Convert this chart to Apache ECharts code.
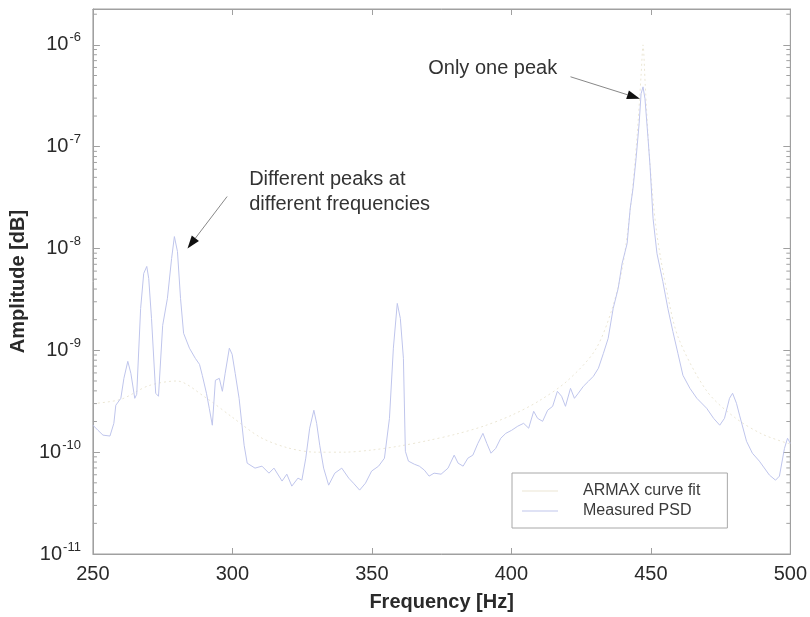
<!DOCTYPE html>
<html>
<head>
<meta charset="utf-8">
<script src="https://cdn.jsdelivr.net/npm/echarts@6/dist/echarts.min.js"></script>
<style>
html,body{margin:0;padding:0;background:#fff;}
#chart{width:810px;height:617px;}
</style>
</head>
<body>
<div id="chart"></div>
<script>
// ---- data ----
const psdFreq = [250.0,251.8,253.6,256.1,257.5,258.2,260.0,261.1,262.5,263.6,265.0,265.7,267.1,268.2,269.3,270.0,271.0,272.5,273.5,275.0,276.7,278.2,279.2,280.3,281.4,282.5,284.6,286.7,288.2,289.2,290.7,291.7,292.8,293.9,295.3,296.4,297.4,298.9,299.9,301.0,302.4,304.2,305.3,308.1,310.6,313.1,314.9,317.8,319.5,321.3,323.5,324.9,326.3,327.7,329.2,330.2,331.3,332.7,334.5,336.7,339.2,341.7,343.4,345.6,347.7,349.9,352.4,354.5,356.3,357.7,359.1,360.2,361.3,362.0,363.1,365.2,367.0,368.8,370.5,372.3,374.8,377.3,379.5,380.9,382.7,384.4,386.2,388.0,389.8,391.2,392.7,394.4,396.2,398.0,400.1,402.3,404.4,406.2,408.0,409.4,411.2,413.0,414.8,416.5,418.0,419.4,421.2,422.6,424.0,425.8,427.6,429.4,431.2,433.0,434.7,436.5,438.3,439.7,441.5,442.6,443.6,444.7,445.8,446.5,447.2,447.9,449.0,449.7,450.8,452.2,454.3,456.1,457.9,459.7,461.5,464.0,466.5,470.0,472.5,474.7,476.4,478.2,479.3,480.7,481.8,484.3,486.4,488.9,492.5,494.7,496.1,497.9,499.0,500.0];
const psdValue = [1.84e-10,1.64e-10,1.47e-10,1.44e-10,1.92e-10,2.89e-10,3.38e-10,5.31e-10,7.8e-10,5.95e-10,3.38e-10,3.7e-10,2.58e-9,5.69e-9,6.67e-9,5.08e-9,2.06e-9,3.79e-10,3.54e-10,1.76e-9,3.24e-9,7.98e-9,1.31e-8,9.35e-9,3.24e-9,1.47e-9,1.05e-9,8.35e-10,7.29e-10,5.69e-10,3.79e-10,2.7e-10,1.84e-10,5.08e-10,5.31e-10,3.96e-10,5.95e-10,1.05e-9,9.14e-10,5.95e-10,3.38e-10,1.17e-10,7.8e-11,6.97e-11,7.29e-11,6.22e-11,6.97e-11,5.2e-11,6.08e-11,4.64e-11,5.56e-11,5.31e-11,8.73e-11,1.72e-10,2.58e-10,1.92e-10,1.17e-10,6.97e-11,4.74e-11,6.22e-11,6.97e-11,5.56e-11,4.96e-11,4.24e-11,4.96e-11,6.52e-11,7.29e-11,8.73e-11,2.15e-10,1.05e-9,2.89e-9,2.06e-9,8.35e-10,1.02e-10,8.17e-11,7.62e-11,7.29e-11,6.67e-11,5.82e-11,6.22e-11,6.08e-11,6.97e-11,9.35e-11,7.8e-11,7.29e-11,8.73e-11,9.35e-11,1.22e-10,1.53e-10,1.22e-10,9.77e-11,1.09e-10,1.37e-10,1.53e-10,1.64e-10,1.8e-10,1.92e-10,1.72e-10,2.52e-10,2.15e-10,2.01e-10,2.58e-10,2.82e-10,3.96e-10,3.54e-10,2.82e-10,4.24e-10,3.38e-10,3.79e-10,4.43e-10,4.96e-10,5.56e-10,6.67e-10,9.35e-10,1.31e-9,2.58e-9,4.06e-9,7.13e-9,1.12e-8,2.47e-8,3.87e-8,7.62e-8,1.68e-7,3.31e-7,3.87e-7,2.96e-7,1.2e-7,6.52e-8,1.97e-8,8.93e-9,4.74e-9,2.58e-9,1.53e-9,9.35e-10,5.69e-10,4.24e-10,3.38e-10,2.7e-10,2.15e-10,1.84e-10,2.15e-10,3.38e-10,3.79e-10,3.02e-10,2.31e-10,1.28e-10,9.77e-11,8.17e-11,5.96e-11,5.31e-11,5.82e-11,1.09e-10,1.37e-10,1.22e-10];

const armaxFreq = [250,260,270,280,290,300,310,320,330,340,350,360,370,380,390,400,410,420,430,436,440,443,445,446.5,447.2,448,449.5,452,456,460,470,480,490,500];
const armaxValue = [3.0e-10,3.3e-10,4.5e-10,5.0e-10,3.5e-10,2.2e-10,1.4e-10,1.1e-10,1.0e-10,1.0e-10,1.05e-10,1.15e-10,1.3e-10,1.5e-10,1.8e-10,2.3e-10,3.2e-10,5.0e-10,1.0e-9,2.5e-9,7e-9,3e-8,1.2e-7,5e-7,1.0e-6,4e-7,8e-8,1.5e-8,3.5e-9,1.3e-9,4e-10,2.2e-10,1.5e-10,1.2e-10];

const xTicks = [250, 300, 350, 400, 450, 500];
const yMin = 1e-11;
const yMax = 2.25e-6;
const seriesNames = ['ARMAX curve fit', 'Measured PSD'];

// annotations in data coordinates
const notes = [
  {lines: ['Only one peak'], at: [370.2, 5.56e-7], from: [421.2, 4.86e-7], to: [446.1, 2.96e-7]},
  {lines: ['Different peaks at', 'different frequencies'], at: [306.0, 4.54e-8], from: [298.1, 3.24e-8], to: [283.9, 1.0e-8]}
];

// ---- chart ----
const chart = echarts.init(document.getElementById('chart'), null, {renderer: 'canvas'});
const FONT = 'Liberation Sans, Arial, sans-serif';
const zip = (a, b) => a.map((v, i) => [v, b[i]]);

function yLabel(v) {
  const l = Math.log10(v);
  const e = Math.round(l);
  if (Math.abs(l - e) > 0.01) return '';
  return '{a|10}{b|' + e + '}';
}

const axisLineStyle = {color: '#a0a0a0', width: 1};

chart.setOption({
  animation: false,
  backgroundColor: '#ffffff',
  grid: {left: 90, right: 18, top: 9, bottom: 61, show: true, borderColor: '#a0a0a0', borderWidth: 1, containLabel: false},
  xAxis: [{
    type: 'value', min: xTicks[0], max: xTicks[xTicks.length - 1], interval: 50,
    position: 'bottom',
    name: 'Frequency [Hz]', nameLocation: 'middle', nameGap: 38,
    nameTextStyle: {fontFamily: FONT, fontSize: 20, fontWeight: 'bold', color: '#2a2a2a'},
    axisLine: {show: true, lineStyle: axisLineStyle},
    axisTick: {show: true, inside: true, length: 6, lineStyle: axisLineStyle},
    axisLabel: {show: true, fontFamily: FONT, fontSize: 20, color: '#2a2a2a', margin: 10},
    splitLine: {show: false}
  }, {
    type: 'value', min: xTicks[0], max: xTicks[xTicks.length - 1], interval: 50,
    position: 'top',
    axisLine: {show: true, lineStyle: axisLineStyle},
    axisTick: {show: true, inside: true, length: 6, lineStyle: axisLineStyle},
    axisLabel: {show: false}, splitLine: {show: false}
  }],
  yAxis: [{
    type: 'log', logBase: 10, min: yMin, max: yMax,
    position: 'left',
    name: 'Amplitude [dB]', nameLocation: 'middle', nameGap: 58, nameRotate: 90,
    nameTextStyle: {fontFamily: FONT, fontSize: 20, fontWeight: 'bold', color: '#2a2a2a'},
    axisLine: {show: true, lineStyle: axisLineStyle},
    axisTick: {show: true, inside: true, length: 7, lineStyle: axisLineStyle},
    axisLabel: {
      show: true, margin: 12, formatter: yLabel,
      rich: {
        a: {fontFamily: FONT, fontSize: 20, color: '#2a2a2a'},
        b: {fontFamily: FONT, fontSize: 13, color: '#2a2a2a', padding: [0, 0, 14, 1]}
      }
    },
    splitLine: {show: false}
  }, {
    type: 'log', logBase: 10, min: yMin, max: yMax,
    position: 'right',
    axisLine: {show: true, lineStyle: axisLineStyle},
    axisTick: {show: true, inside: true, length: 7, lineStyle: axisLineStyle},
    axisLabel: {show: false}, splitLine: {show: false}
  }],
  legend: {
    data: seriesNames, orient: 'vertical', left: 512, top: 473,
    backgroundColor: '#fff', borderColor: '#a8a8a8', borderWidth: 1, borderRadius: 0,
    padding: [10, 27, 9, 10], itemGap: 4,
    icon: 'rect', itemWidth: 36, itemHeight: 1,
    textStyle: {fontFamily: FONT, fontSize: 16, color: '#3a3a3a', padding: [0, 0, 0, 20]}
  },
  series: [{
    name: seriesNames[0], type: 'line', data: zip(armaxFreq, armaxValue),
    showSymbol: false, symbol: 'none', smooth: 0.3,
    lineStyle: {color: '#ebe6d4', width: 1, type: [2, 3]},
    itemStyle: {color: '#ebe6d4'}, z: 1
  }, {
    name: seriesNames[1], type: 'line', data: zip(psdFreq, psdValue),
    showSymbol: false, symbol: 'none',
    lineStyle: {color: '#bfc5ec', width: 1},
    itemStyle: {color: '#bfc5ec'}, z: 2
  }]
});

// annotations placed through the chart's own coordinate conversion
const g = [];
notes.forEach(n => {
  const p = chart.convertToPixel({gridIndex: 0}, n.at);
  n.lines.forEach((t, i) => {
    g.push({type: 'text', left: p[0], top: p[1] - 12 + i * 25,
      style: {text: t, font: '20px ' + FONT, fill: '#333'}, z: 10});
  });
  const a = chart.convertToPixel({gridIndex: 0}, n.from);
  const b = chart.convertToPixel({gridIndex: 0}, n.to);
  const dx = b[0] - a[0], dy = b[1] - a[1];
  const L = Math.hypot(dx, dy), ux = dx / L, uy = dy / L;
  const hl = 13, hw = 4.5;
  const bx = b[0] - ux * hl, by = b[1] - uy * hl;
  g.push({type: 'line', shape: {x1: a[0], y1: a[1], x2: bx, y2: by}, style: {stroke: '#888', lineWidth: 1}, z: 10});
  g.push({type: 'polygon', shape: {points: [[b[0], b[1]], [bx - uy * hw, by + ux * hw], [bx + uy * hw, by - ux * hw]]}, style: {fill: '#111'}, z: 10});
});
// log-spaced minor ticks on both vertical axes
const gl = chart.convertToPixel({gridIndex: 0}, [250, 1e-9]);
const gr = chart.convertToPixel({gridIndex: 0}, [500, 1e-9]);
for (let d = -11; d <= -6; d++) {
  for (let k = 2; k <= 9; k++) {
    const v = k * Math.pow(10, d);
    if (v > yMax) continue;
    const y = chart.convertToPixel({yAxisIndex: 0}, v);
    g.push({type: 'line', shape: {x1: gl[0], y1: y, x2: gl[0] + 4, y2: y}, style: {stroke: '#a0a0a0', lineWidth: 1}, z: 5});
    g.push({type: 'line', shape: {x1: gr[0], y1: y, x2: gr[0] - 4, y2: y}, style: {stroke: '#a0a0a0', lineWidth: 1}, z: 5});
  }
}
chart.setOption({graphic: g});
</script>
</body>
</html>
